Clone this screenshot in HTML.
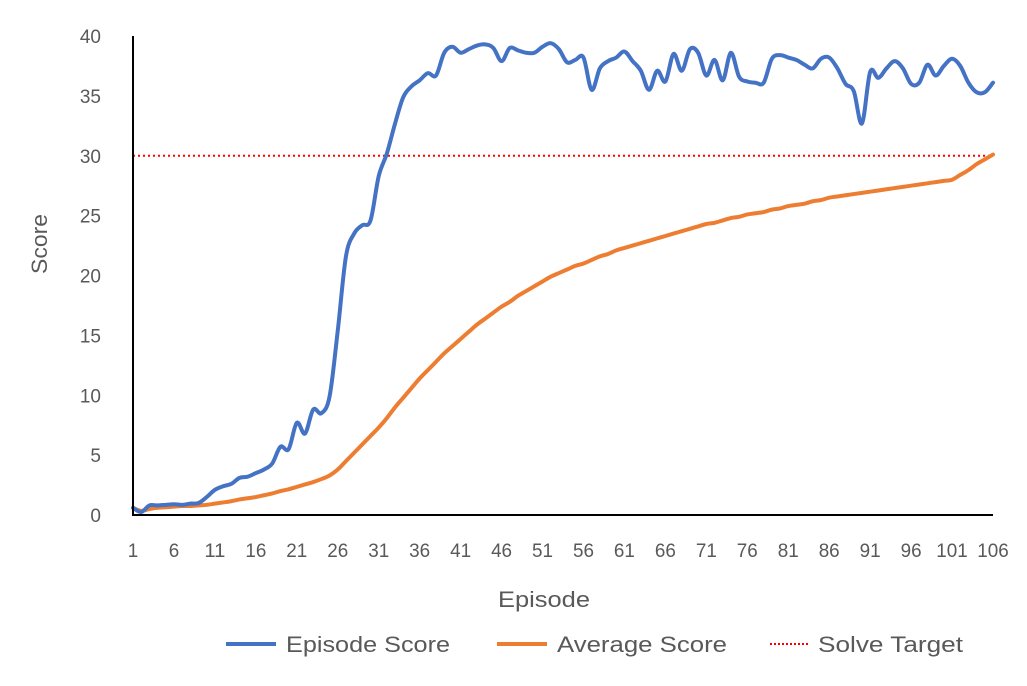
<!DOCTYPE html>
<html><head><meta charset="utf-8"><style>
html,body{margin:0;padding:0;background:#fff;}
svg text{font-family:"Liberation Sans",sans-serif;fill:#595959;}
</style></head><body>
<svg id="chart" width="1027" height="681" viewBox="0 0 1027 681">
<g id="grid"></g>
<g id="series"></g>
<g id="axes"></g>
<g id="legend"></g>
</svg>
<script>
const episodeScore=[0.6,0.25,0.8,0.8,0.85,0.9,0.85,0.95,1.0,1.5,2.1,2.4,2.6,3.1,3.2,3.5,3.8,4.3,5.7,5.5,7.7,6.8,8.8,8.5,9.9,15.4,21.6,23.5,24.2,24.6,28.3,30.2,32.7,34.9,35.8,36.3,36.9,36.7,38.6,39.1,38.6,38.9,39.2,39.3,39.0,37.9,39.0,38.8,38.6,38.6,39.1,39.4,38.9,37.8,38.0,38.2,35.5,37.3,37.9,38.2,38.7,37.9,37.1,35.5,37.1,36.2,38.5,37.1,38.9,38.6,36.7,38.0,36.3,38.6,36.6,36.2,36.1,36.1,38.1,38.4,38.2,38.0,37.6,37.3,38.1,38.2,37.3,36.0,35.4,32.7,37.0,36.5,37.3,37.9,37.3,36.0,36.1,37.6,36.7,37.5,38.1,37.5,36.1,35.3,35.3,36.1];
const averageScore=[0.6,0.35,0.5,0.6,0.65,0.7,0.75,0.75,0.8,0.85,0.95,1.05,1.15,1.3,1.4,1.5,1.65,1.8,2.0,2.15,2.35,2.55,2.75,3.0,3.3,3.8,4.5,5.2,5.9,6.6,7.3,8.1,9.0,9.8,10.6,11.4,12.1,12.8,13.5,14.1,14.7,15.3,15.9,16.4,16.9,17.4,17.8,18.3,18.7,19.1,19.5,19.9,20.2,20.5,20.8,21.0,21.3,21.6,21.8,22.1,22.3,22.5,22.7,22.9,23.1,23.3,23.5,23.7,23.9,24.1,24.3,24.4,24.6,24.8,24.9,25.1,25.2,25.3,25.5,25.6,25.8,25.9,26.0,26.2,26.3,26.5,26.6,26.7,26.8,26.9,27.0,27.1,27.2,27.3,27.4,27.5,27.6,27.7,27.8,27.9,28.0,28.4,28.8,29.3,29.7,30.1];
const solveTarget=30;
const yTicks=[0,5,10,15,20,25,30,35,40];
const xTickLabels=[1,6,11,16,21,26,31,36,41,46,51,56,61,66,71,76,81,86,91,96,101,106];

const NS="http://www.w3.org/2000/svg";
const X0=133,X1=993,Y0=515,Y1=36;
const N=episodeScore.length;
function xs(ep){return X0+(ep-1)*(X1-X0)/(N-1);}
function ys(v){return Y0-v*(Y0-Y1)/40;}
function mk(tag,attrs,parent){const e=document.createElementNS(NS,tag);for(const k in attrs)e.setAttribute(k,attrs[k]);parent.appendChild(e);return e;}
function smooth(vals){
  const p=vals.map((v,i)=>[xs(i+1),ys(v)]);
  let d="M"+p[0][0]+","+p[0][1];
  for(let i=0;i<p.length-1;i++){
    const a=p[Math.max(i-1,0)],b=p[i],c=p[i+1],e=p[Math.min(i+2,p.length-1)];
    const t=1/6;
    d+=" C"+(b[0]+(c[0]-a[0])*t)+","+(b[1]+(c[1]-a[1])*t)+" "+(c[0]-(e[0]-b[0])*t)+","+(c[1]-(e[1]-b[1])*t)+" "+c[0]+","+c[1];
  }
  return d;
}
const series=document.getElementById('series');
const axes=document.getElementById('axes');
const legend=document.getElementById('legend');

const tl=mk('line',{x1:X0,x2:X1,y1:ys(solveTarget),y2:ys(solveTarget),stroke:'#ff0000','stroke-width':2,'stroke-dasharray':'2,3'},series);


const avg=mk('path',{d:smooth(averageScore),fill:'none',stroke:'#ed7d31','stroke-width':4,'stroke-linejoin':'round','stroke-linecap':'round'},series);


const ep=mk('path',{d:smooth(episodeScore),fill:'none',stroke:'#4472c4','stroke-width':4,'stroke-linejoin':'round','stroke-linecap':'round'},series);



const ya=mk('line',{x1:X0,x2:X0,y1:Y1,y2:Y0+1,stroke:'#000','stroke-width':2},axes);


const xa=mk('line',{x1:X0-1,x2:X1,y1:Y0,y2:Y0,stroke:'#000','stroke-width':2},axes);



yTicks.forEach(v=>{
  const t=mk('text',{x:101,y:ys(v)+7,'text-anchor':'end','font-size':19},axes);
  t.textContent=v;
  
  
});
xTickLabels.forEach(v=>{
  const t=mk('text',{x:xs(v),y:557,'text-anchor':'middle','font-size':19,textLength:String(v).length*10.5,lengthAdjust:'spacingAndGlyphs'},axes);
  t.textContent=v;
  
  
});
const xt=mk('text',{x:544,y:607,'text-anchor':'middle','font-size':22,textLength:92,lengthAdjust:'spacingAndGlyphs'},axes);
xt.textContent='Episode';


const yt=mk('text',{x:0,y:0,'text-anchor':'middle','font-size':22,textLength:60,lengthAdjust:'spacingAndGlyphs',transform:'translate(47,244) rotate(-90)'},axes);
yt.textContent='Score';



const leg=[['Episode Score','#4472c4',226,286,164,''],['Average Score','#ed7d31',497,557,170,''],['Solve Target','#ff0000',770,818,145,'2,2']];
leg.forEach(l=>{
  const g=mk('g',{},legend);
  
  
  const ln=mk('line',{x1:l[2],x2:l[2]+(l[5]?40:50),y1:644,y2:644,stroke:l[1],'stroke-width':l[5]?2:4,'stroke-dasharray':l[5]},g);
  
  
  const t=mk('text',{x:l[3],y:652,'font-size':22,textLength:l[4],lengthAdjust:'spacingAndGlyphs'},g);
  t.textContent=l[0];
  
  
});
</script>
</body></html>
